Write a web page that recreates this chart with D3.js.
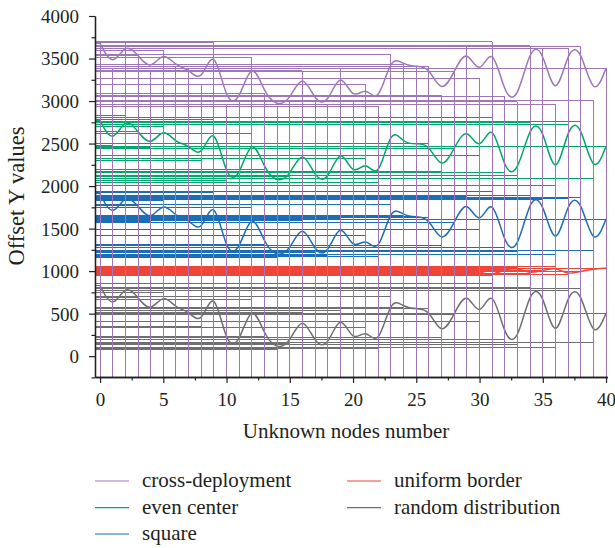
<!DOCTYPE html>
<html>
<head>
<meta charset="utf-8">
<script src="https://d3js.org/d3.v7.min.js"></script>
<style>
    body { margin: 0; background: #fff; }
    svg text { font-family: "Liberation Serif", "DejaVu Serif", serif !important; fill: #231f20; }
</style>
</head>
<body>
<svg id="chart" width="615" height="548"></svg>
<script>
// x values shared by every series
var unknownNodes = [0, 1, 2, 3, 4, 5, 6, 7, 8, 9, 10, 11, 12, 13, 14, 15, 16, 17, 18, 19, 20,
    21, 22, 23, 24, 25, 26, 27, 28, 29, 30, 31, 32, 33, 34, 35, 36, 37, 38, 39, 40];

var crossDeployment = [3680, 3385, 3690, 3540, 3355, 3595, 3405, 3385, 3195, 3690, 2960, 2990, 3510, 3085,
    2940, 3005, 3355, 2990, 2955, 3385, 2990, 3190, 2940, 3550, 3425, 3405, 3405, 3070, 3345, 3640, 3260,
    3700, 3050, 2990, 3650, 3620, 2960, 3620, 3640, 3010, 3385];
var evenCenter = [2770, 2480, 2825, 2640, 2455, 2700, 2500, 2495, 2305, 2785, 2065, 2090, 2620, 2190,
    2040, 2110, 2465, 2090, 2040, 2500, 2090, 2325, 2040, 2720, 2500, 2495, 2500, 2170, 2445, 2720, 2365,
    2810, 2155, 2130, 2745, 2720, 2010, 2730, 2755, 2090, 2470];
var square = [1910, 1612, 1925, 1768, 1580, 1828, 1632, 1618, 1420, 1922, 1188, 1224, 1745, 1312,
    1166, 1238, 1590, 1215, 1182, 1618, 1226, 1415, 1172, 1785, 1650, 1640, 1630, 1304, 1570, 1872, 1488,
    1935, 1276, 1226, 1884, 1846, 1194, 1852, 1868, 1244, 1612];
var uniformBorder = [1050, 960, 1040, 985, 1055, 945, 1020, 1000, 950, 1045, 970, 1035, 955, 1010,
    1050, 990, 948, 1025, 1005, 960, 1040, 975, 1055, 950, 1015, 1018, 1045, 965, 1030, 1055, 985,
    950, 1020, 1040, 970, 1008, 1050, 955, 1000, 1025, 1035];
var randomDistribution = [830, 535, 855, 690, 505, 750, 555, 540, 345, 850, 100, 135, 665, 235,
    80, 150, 510, 140, 95, 540, 140, 340, 85, 705, 575, 555, 560, 220, 495, 795, 410,
    860, 200, 140, 805, 770, 105, 775, 795, 160, 505];

var xTicks = [0, 5, 10, 15, 20, 25, 30, 35, 40];
var xMinorTicks = [2.5, 7.5, 12.5, 17.5, 22.5, 27.5, 32.5, 37.5];
var yTicks = [0, 500, 1000, 1500, 2000, 2500, 3000, 3500, 4000];
var yMinorTicks = [-250, 250, 750, 1250, 1750, 2250, 2750, 3250, 3750];

var seriesNames = ["cross-deployment", "even center", "square", "uniform border", "random distribution"];
var seriesValues = [crossDeployment, evenCenter, square, uniformBorder, randomDistribution];
var seriesColors = ["#9d77b8", "#00a66b", "#1b6db5", "#ef4538", "#6f6f71"];

var svg = d3.select("#chart");

var x = d3.scaleLinear().domain([-0.4, 40.1]).range([95, 607.3]);
var y = d3.scaleLinear().domain([-245, 4000]).range([377, 16]);

var series = seriesNames.map(function (name, i) {
    return {
        name: name,
        color: seriesColors[i],
        points: unknownNodes.map(function (n, j) { return { x: n, y: seriesValues[i][j] }; })
    };
});

var line = d3.line()
    .x(function (d) { return x(d.x); })
    .y(function (d) { return y(d.y); })
    .curve(d3.curveBasis);

// draw in reverse so cross-deployment ends up on top
var plot = svg.append("g").attr("class", "plot");
series.slice().reverse().forEach(function (s) {
    var g = plot.append("g").attr("class", "series");
    // horizontal drop lines to the y axis
    g.selectAll("line.h")
        .data(s.points)
        .enter().append("line")
        .attr("class", "h")
        .attr("x1", x.range()[0])
        .attr("x2", function (d) { return x(d.x); })
        .attr("y1", function (d) { return y(d.y); })
        .attr("y2", function (d) { return y(d.y); })
        .attr("stroke", s.color)
        .attr("stroke-width", 1)
        .attr("shape-rendering", "crispEdges");
    // vertical drop lines to the x axis
    g.selectAll("line.v")
        .data(s.points)
        .enter().append("line")
        .attr("class", "v")
        .attr("x1", function (d) { return x(d.x); })
        .attr("x2", function (d) { return x(d.x); })
        .attr("y1", function (d) { return y(d.y); })
        .attr("y2", y.range()[0])
        .attr("stroke", s.color)
        .attr("stroke-width", 1)
        .attr("shape-rendering", "crispEdges");
    g.append("path")
        .datum(s.points)
        .attr("fill", "none")
        .attr("stroke", s.color)
        .attr("stroke-width", 1.5)
        .attr("d", line);
});

function styleAxis(g) {
    g.attr("font-family", null);
    g.select(".domain").attr("stroke", "#231f20").attr("stroke-width", 1.3);
    g.selectAll(".tick line").attr("stroke", "#231f20").attr("stroke-width", 1.2);
    g.selectAll("text").attr("fill", "#231f20").style("font-size", "19px");
}

// minor ticks first, then the main axes over them
svg.append("g")
    .attr("transform", "translate(0," + y.range()[0] + ")")
    .call(d3.axisBottom(x).tickValues(xMinorTicks).tickSize(3.5).tickSizeOuter(0).tickFormat(""))
    .call(styleAxis);
svg.append("g")
    .attr("transform", "translate(" + x.range()[0] + ",0)")
    .call(d3.axisLeft(y).tickValues(yMinorTicks).tickSize(3.5).tickSizeOuter(0).tickFormat(""))
    .call(styleAxis);

svg.append("g")
    .attr("transform", "translate(0," + y.range()[0] + ")")
    .call(d3.axisBottom(x).tickValues(xTicks).tickSize(6).tickSizeOuter(0).tickPadding(10)
        .tickFormat(d3.format("d")))
    .call(styleAxis);
svg.append("g")
    .attr("transform", "translate(" + x.range()[0] + ",0)")
    .call(d3.axisLeft(y).tickValues(yTicks).tickSize(6).tickSizeOuter(0).tickPadding(10)
        .tickFormat(d3.format("d")))
    .call(styleAxis)
    .selectAll("text").attr("dy", "0.34em");

svg.append("text")
    .attr("x", 346)
    .attr("y", 438)
    .attr("text-anchor", "middle")
    .style("font-size", "21px")
    .text("Unknown nodes number");

svg.append("text")
    .attr("transform", "translate(24,196) rotate(-90)")
    .attr("text-anchor", "middle")
    .style("font-size", "22.5px")
    .text("Offset Y values");

// legend: two columns, filled column by column
var legendCols = [95, 347];
var legendRows = [481, 507.7, 534];
var legend = svg.append("g").attr("class", "legend");
series.forEach(function (s, i) {
    var col = i < 3 ? 0 : 1;
    var row = i < 3 ? i : i - 3;
    var item = legend.append("g")
        .attr("transform", "translate(" + legendCols[col] + "," + legendRows[row] + ")");
    item.append("line")
        .attr("x1", 0).attr("x2", 34)
        .attr("stroke", s.color)
        .attr("stroke-width", 1.2);
    item.append("text")
        .attr("x", 47)
        .attr("dy", "0.3em")
        .style("font-size", "21px")
        .text(s.name);
});
</script>
</body>
</html>
